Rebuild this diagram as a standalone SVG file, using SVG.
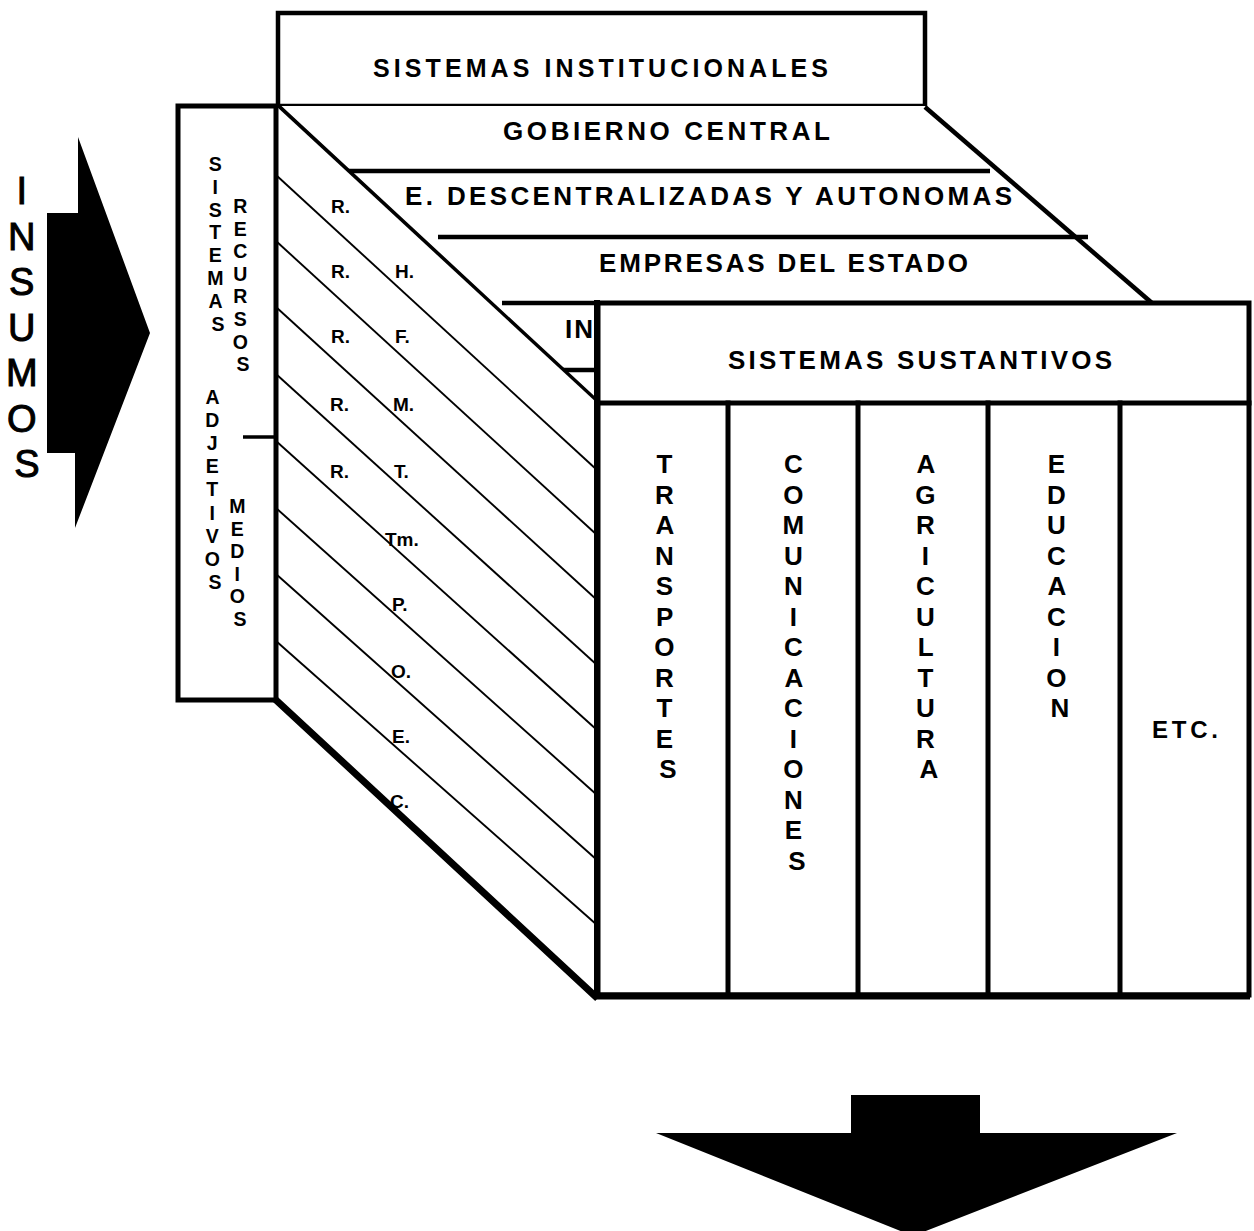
<svg xmlns="http://www.w3.org/2000/svg" width="1254" height="1231" viewBox="0 0 1254 1231">
  <defs>
    <style>
      .t{font-family:"Liberation Sans",Arial,Helvetica,sans-serif;font-weight:bold;fill:#000;}
      .h{font-size:26px;}
      .v{font-size:26px;text-anchor:middle;}
      .vs{font-size:19.5px;text-anchor:middle;}
      .lab{font-size:19px;}
      .big{font-size:38px;text-anchor:middle;font-weight:normal;stroke:#000;stroke-width:1;}
      .edge{stroke:#000;fill:none;stroke-width:5;stroke-linecap:square;stroke-linejoin:miter;}
      .thin{stroke:#000;fill:none;stroke-width:1.9;}
      .band{stroke:#000;fill:none;stroke-width:4.5;}
    </style>
  </defs>
  <rect x="0" y="0" width="1254" height="1231" fill="#fff"/>

  <!-- input / output arrows -->
  <g id="connectors">
    <polygon id="arrow-in" points="47,213 78,213 78,137 150,333 75,528 75,453 47,453" fill="#000"/>
    <polygon id="arrow-out" points="851,1095 980,1095 980,1133 1177,1133 913,1236 656,1133 851,1133" fill="#000"/>
  </g>

  <!-- INSUMOS label beside the input arrow -->
  <g id="insumos">
    <text class="t big">
      <tspan x="27" y="204">I</tspan>
      <tspan x="27" y="249.5">N</tspan>
      <tspan x="27" y="295">S</tspan>
      <tspan x="27" y="340.5">U</tspan>
      <tspan x="27" y="386">M</tspan>
      <tspan x="27" y="431.5">O</tspan>
      <tspan x="27" y="477">S</tspan>
    </text>
  </g>

  <!-- top box: institutional systems -->
  <g id="sistemas-institucionales">
    <rect x="278" y="13" width="647" height="93" fill="#fff" stroke="#000" stroke-width="4.5"/>
    <text class="t" x="373" y="77" font-size="25" textLength="455" lengthAdjust="spacing">SISTEMAS INSTITUCIONALES</text>
  </g>

  <!-- top face of the block with its institutional bands -->
  <g id="cara-superior">
    <polygon points="278,106 925,106 1152,303 597,403" fill="#fff"/>
    <line class="edge" x1="279" y1="107" x2="597" y2="402"/>
    <line class="band" x1="925" y1="107" x2="1152" y2="303"/>
    <line class="band" x1="342" y1="171" x2="990" y2="171"/>
    <line class="band" x1="438" y1="237" x2="1088" y2="237"/>
    <line class="band" x1="502" y1="303" x2="600" y2="303"/>
    <line class="band" x1="563" y1="370" x2="600" y2="370"/>
    <text class="t h" x="503" y="140" textLength="327" lengthAdjust="spacing">GOBIERNO CENTRAL</text>
    <text class="t h" x="405" y="205" textLength="607" lengthAdjust="spacing">E. DESCENTRALIZADAS Y AUTONOMAS</text>
    <text class="t h" x="599" y="272" textLength="369" lengthAdjust="spacing">EMPRESAS DEL ESTADO</text>
    <text class="t h" x="565" y="338" textLength="28" lengthAdjust="spacing">IN</text>
  </g>

  <!-- side face: resources and means -->
  <g id="cara-lateral">
    <polygon points="276,106 597,403 597,997 276,700" fill="#fff"/>
    <g class="thin">
      <line x1="276" y1="175" x2="597" y2="470"/>
      <line x1="276" y1="241" x2="597" y2="535"/>
      <line x1="276" y1="307" x2="597" y2="600"/>
      <line x1="276" y1="374" x2="597" y2="665"/>
      <line x1="276" y1="441" x2="597" y2="730"/>
      <line x1="276" y1="508" x2="597" y2="795"/>
      <line x1="276" y1="574" x2="597" y2="860"/>
      <line x1="276" y1="641" x2="597" y2="925"/>
    </g>
    <line x1="276" y1="700" x2="595" y2="996" stroke="#000" stroke-width="7" stroke-linecap="square"/>
    <g class="t lab">
      <text x="331" y="213">R.</text>
      <text x="331" y="278">R.</text>
      <text x="395" y="278">H.</text>
      <text x="331" y="343">R.</text>
      <text x="395" y="343">F.</text>
      <text x="330" y="411">R.</text>
      <text x="393" y="411">M.</text>
      <text x="330" y="478">R.</text>
      <text x="394" y="478">T.</text>
      <text x="385" y="546">Tm.</text>
      <text x="392" y="611">P.</text>
      <text x="391" y="678">O.</text>
      <text x="392" y="743">E.</text>
      <text x="390" y="808">C.</text>
    </g>
  </g>

  <!-- left box: adjective systems -->
  <g id="sistemas-adjetivos">
    <rect x="178" y="106" width="98" height="594" fill="#fff" stroke="#000" stroke-width="5"/>
    <line x1="243" y1="437" x2="274" y2="437" stroke="#000" stroke-width="3.5"/>
    <text class="t vs">
      <tspan x="218" y="171">S</tspan>
      <tspan x="218" y="194">I</tspan>
      <tspan x="218" y="217">S</tspan>
      <tspan x="218" y="239">T</tspan>
      <tspan x="218" y="262">E</tspan>
      <tspan x="218" y="285">M</tspan>
      <tspan x="218" y="308">A</tspan>
      <tspan x="218" y="331">S</tspan>
    </text>
    <text class="t vs">
      <tspan x="243" y="213">R</tspan>
      <tspan x="243" y="236">E</tspan>
      <tspan x="243" y="258">C</tspan>
      <tspan x="243" y="281">U</tspan>
      <tspan x="243" y="303">R</tspan>
      <tspan x="243" y="326">S</tspan>
      <tspan x="243" y="349">O</tspan>
      <tspan x="243" y="371">S</tspan>
    </text>
    <text class="t vs">
      <tspan x="215" y="404">A</tspan>
      <tspan x="215" y="427">D</tspan>
      <tspan x="215" y="450">J</tspan>
      <tspan x="215" y="473">E</tspan>
      <tspan x="215" y="496">T</tspan>
      <tspan x="215" y="520">I</tspan>
      <tspan x="215" y="543">V</tspan>
      <tspan x="215" y="566">O</tspan>
      <tspan x="215" y="589">S</tspan>
    </text>
    <text class="t vs">
      <tspan x="240" y="513">M</tspan>
      <tspan x="240" y="536">E</tspan>
      <tspan x="240" y="558">D</tspan>
      <tspan x="240" y="581">I</tspan>
      <tspan x="240" y="603">O</tspan>
      <tspan x="240" y="626">S</tspan>
    </text>
  </g>

  <!-- front face: substantive systems -->
  <g id="sistemas-sustantivos">
    <rect x="598" y="303" width="651" height="692" fill="#fff" stroke="#000" stroke-width="5"/>
    <line class="edge" x1="598" y1="403" x2="1249" y2="403"/>
    <line x1="594" y1="996" x2="1250" y2="996" stroke="#000" stroke-width="7"/>
    <line x1="597" y1="300" x2="597" y2="997" stroke="#000" stroke-width="6"/>
    <g class="edge">
      <line x1="728" y1="403" x2="728" y2="995"/>
      <line x1="858" y1="403" x2="858" y2="995"/>
      <line x1="988" y1="403" x2="988" y2="995"/>
      <line x1="1120" y1="403" x2="1120" y2="995"/>
    </g>
    <text class="t h" x="728" y="369" textLength="384" lengthAdjust="spacing">SISTEMAS SUSTANTIVOS</text>
  </g>

  <g id="col-transportes">
    <text class="t v">
      <tspan x="668" y="473">T</tspan>
      <tspan x="668" y="503.5">R</tspan>
      <tspan x="668" y="534">A</tspan>
      <tspan x="668" y="564.5">N</tspan>
      <tspan x="668" y="595">S</tspan>
      <tspan x="668" y="625.5">P</tspan>
      <tspan x="668" y="656">O</tspan>
      <tspan x="668" y="686.5">R</tspan>
      <tspan x="668" y="717">T</tspan>
      <tspan x="668" y="747.5">E</tspan>
      <tspan x="668" y="778">S</tspan>
    </text>
  </g>
  <g id="col-comunicaciones">
    <text class="t v">
      <tspan x="797" y="473">C</tspan>
      <tspan x="797" y="503.5">O</tspan>
      <tspan x="797" y="534">M</tspan>
      <tspan x="797" y="564.5">U</tspan>
      <tspan x="797" y="595">N</tspan>
      <tspan x="797" y="625.5">I</tspan>
      <tspan x="797" y="656">C</tspan>
      <tspan x="797" y="686.5">A</tspan>
      <tspan x="797" y="717">C</tspan>
      <tspan x="797" y="747.5">I</tspan>
      <tspan x="797" y="778">O</tspan>
      <tspan x="797" y="808.5">N</tspan>
      <tspan x="797" y="839">E</tspan>
      <tspan x="797" y="869.5">S</tspan>
    </text>
  </g>
  <g id="col-agricultura">
    <text class="t v">
      <tspan x="929" y="473">A</tspan>
      <tspan x="929" y="503.5">G</tspan>
      <tspan x="929" y="534">R</tspan>
      <tspan x="929" y="564.5">I</tspan>
      <tspan x="929" y="595">C</tspan>
      <tspan x="929" y="625.5">U</tspan>
      <tspan x="929" y="656">L</tspan>
      <tspan x="929" y="686.5">T</tspan>
      <tspan x="929" y="717">U</tspan>
      <tspan x="929" y="747.5">R</tspan>
      <tspan x="929" y="778">A</tspan>
    </text>
  </g>
  <g id="col-educacion">
    <text class="t v">
      <tspan x="1060" y="473">E</tspan>
      <tspan x="1060" y="503.5">D</tspan>
      <tspan x="1060" y="534">U</tspan>
      <tspan x="1060" y="564.5">C</tspan>
      <tspan x="1060" y="595">A</tspan>
      <tspan x="1060" y="625.5">C</tspan>
      <tspan x="1060" y="656">I</tspan>
      <tspan x="1060" y="686.5">O</tspan>
      <tspan x="1060" y="717">N</tspan>
    </text>
  </g>
  <g id="col-etc">
    <text class="t" x="1152" y="738" font-size="24" textLength="66" lengthAdjust="spacing">ETC.</text>
  </g>
</svg>
